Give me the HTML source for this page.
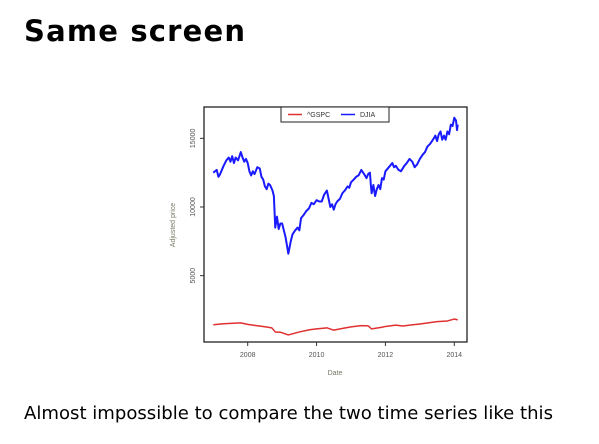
<!DOCTYPE html>
<html><head><meta charset="utf-8"><style>
body{margin:0;background:#fff;width:599px;height:444px;overflow:hidden}
svg{display:block}
</style></head><body>
<svg width="599" height="444">
<text x="24" y="41" font-family="DejaVu Sans, sans-serif" font-weight="bold" font-size="29" textLength="221">Same screen</text>
<g id="chart"></g>
<text x="24" y="419" font-family="DejaVu Sans, sans-serif" font-size="17.5" textLength="529" lengthAdjust="spacingAndGlyphs">Almost impossible to compare the two time series like this</text>
</svg>
<script>
const djiaDates=[2007.0,2007.05,2007.1,2007.15,2007.2,2007.3,2007.38,2007.45,2007.5,2007.55,2007.6,2007.65,2007.72,2007.8,2007.85,2007.9,2007.95,2008.0,2008.05,2008.1,2008.15,2008.2,2008.28,2008.35,2008.4,2008.45,2008.5,2008.55,2008.6,2008.65,2008.72,2008.76,2008.8,2008.85,2008.9,2008.95,2009.0,2009.05,2009.1,2009.18,2009.25,2009.3,2009.38,2009.45,2009.5,2009.55,2009.62,2009.7,2009.78,2009.85,2009.92,2010.0,2010.08,2010.15,2010.22,2010.3,2010.35,2010.4,2010.45,2010.5,2010.55,2010.6,2010.68,2010.75,2010.82,2010.9,2010.95,2011.0,2011.08,2011.15,2011.22,2011.3,2011.38,2011.45,2011.5,2011.55,2011.58,2011.6,2011.65,2011.7,2011.75,2011.8,2011.85,2011.9,2011.95,2012.0,2012.1,2012.2,2012.25,2012.3,2012.38,2012.45,2012.5,2012.55,2012.62,2012.7,2012.78,2012.85,2012.92,2013.0,2013.08,2013.15,2013.22,2013.3,2013.38,2013.45,2013.5,2013.55,2013.6,2013.65,2013.7,2013.75,2013.8,2013.85,2013.9,2013.95,2014.0,2014.05,2014.08,2014.1];
const djiaValues=[12500,12600,12700,12200,12400,13000,13400,13600,13300,13700,13200,13600,13400,14000,13600,13300,13500,13200,12600,12300,12600,12400,12900,12800,12200,12000,11500,11300,11700,11600,11200,10800,8500,9300,8400,8800,8800,8300,7800,6600,7500,8000,8300,8500,8300,9200,9400,9700,9900,10300,10200,10500,10400,10400,10900,11200,10600,10000,10200,9800,10200,10400,10600,11000,11200,11500,11400,11800,12000,12200,12300,12700,12400,12100,12400,12500,11500,11000,11600,10800,11300,11600,11300,12100,12000,12600,12900,13200,12900,13000,12700,12600,12800,13000,13200,13500,13300,12900,13100,13500,13800,14000,14400,14600,14900,15200,14800,15300,15500,14900,15200,14900,15500,15300,16000,15900,16500,16300,15600,16000];
const gspcDates=[2007.0,2007.3,2007.8,2008.0,2008.2,2008.5,2008.7,2008.8,2008.95,2009.18,2009.5,2009.8,2010.0,2010.3,2010.5,2010.8,2011.0,2011.3,2011.5,2011.6,2011.9,2012.0,2012.3,2012.5,2012.8,2013.0,2013.5,2013.8,2014.0,2014.1];
const gspcValues=[1420,1500,1560,1450,1380,1280,1200,900,880,680,900,1060,1120,1200,1030,1180,1270,1360,1340,1120,1240,1300,1400,1330,1420,1480,1650,1700,1840,1780];
const xTicks=[2008,2010,2012,2014];
const yTicks=[5000,10000,15000];
const NS='http://www.w3.org/2000/svg';
const g=document.getElementById('chart');
const L=204,R=467,T=107,B=342;
const xs=d=>247.7+(d-2008)*34.43;
const ys=v=>344.3-v*0.01373;
function mk(t,a){const e=document.createElementNS(NS,t);for(const k in a)e.setAttribute(k,a[k]);g.appendChild(e);return e;}
let e=mk('rect',{x:L,y:T,width:R-L,height:B-T,fill:'none',stroke:'#222','stroke-width':1.3});


xTicks.forEach(t=>{const x=xs(t);
 let l=mk('line',{x1:x,x2:x,y1:B,y2:B+4,stroke:'#333'});
 
 
 let s=mk('text',{x:x,y:B+15,'font-size':7,'text-anchor':'middle',fill:'#555','font-family':'Liberation Sans, sans-serif'});s.textContent=t;
 
 });
yTicks.forEach(t=>{const y=ys(t);
 let l=mk('line',{x1:L-4,x2:L,y1:y,y2:y,stroke:'#333'});
 
 
 let s=mk('text',{x:L-9,y:y,'font-size':7,'text-anchor':'middle',fill:'#555','font-family':'Liberation Sans, sans-serif',transform:`rotate(-90 ${L-9} ${y})`});s.textContent=t;
 
 });
let xt=mk('text',{x:335,y:375,'font-size':7,'text-anchor':'middle',fill:'#776','font-family':'Liberation Sans, sans-serif'});xt.textContent='Date';


let yt=mk('text',{x:175,y:225,'font-size':7,'text-anchor':'middle',fill:'#776','font-family':'Liberation Sans, sans-serif',transform:'rotate(-90 175 225)'});yt.textContent='Adjusted price';


function line(d,v,c,n){const p=mk('polyline',{points:d.map((t,i)=>xs(t)+','+ys(v[i])).join(' '),fill:'none',stroke:c,'stroke-width':n==='djia-line'?2:1.5,'stroke-linejoin':'round'});
 
 }
line(gspcDates,gspcValues,'#e03030','gspc-line');
line(djiaDates,djiaValues,'#1a1aff','djia-line');
let lg=mk('rect',{x:281,y:107,width:108,height:15,fill:'#fff',stroke:'#222','stroke-width':1});


let l1=mk('line',{x1:288,x2:302,y1:114.5,y2:114.5,stroke:'#e03030','stroke-width':1.5});


let t1=mk('text',{x:307,y:117,'font-size':7,fill:'#333','font-family':'Liberation Sans, sans-serif'});t1.textContent='^GSPC';


let l2=mk('line',{x1:341,x2:355,y1:114.5,y2:114.5,stroke:'#1a1aff','stroke-width':1.5});


let t2=mk('text',{x:360,y:117,'font-size':7,fill:'#333','font-family':'Liberation Sans, sans-serif'});t2.textContent='DJIA';


</script>
</body></html>
